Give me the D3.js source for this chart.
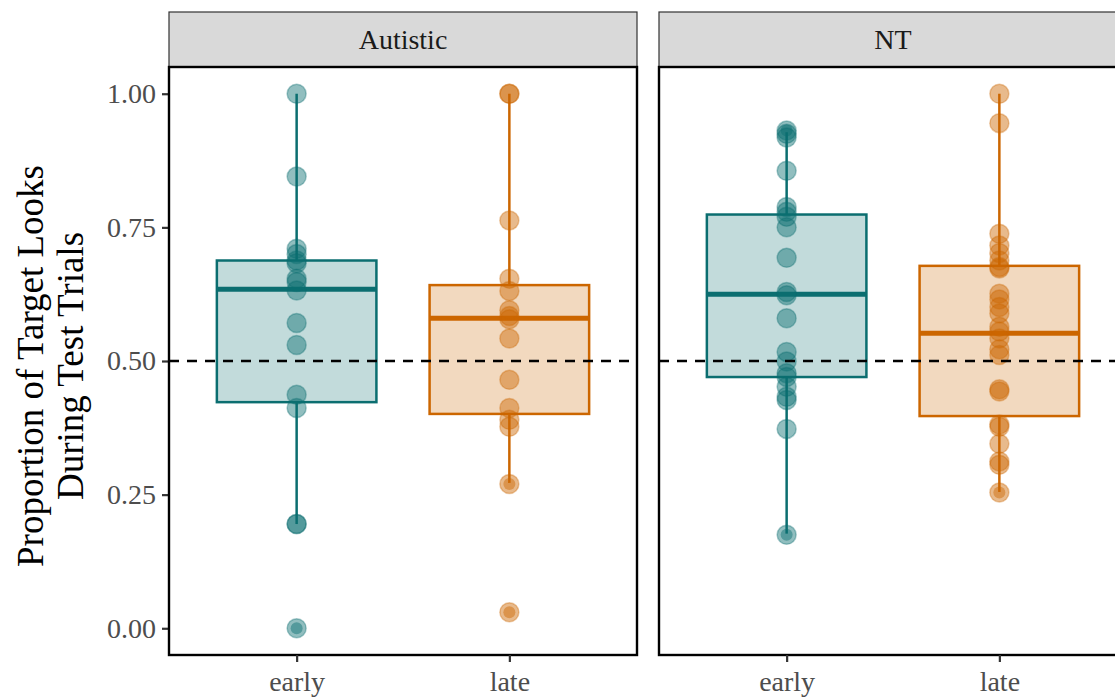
<!DOCTYPE html>
<html>
<head>
<meta charset="utf-8">
<script src="https://cdn.jsdelivr.net/npm/d3@7"></script>
<style>
  body { margin: 0; background: #fff; }
  text { font-family: "Liberation Serif", "DejaVu Serif", serif; }
</style>
</head>
<body>
<div id="chart"></div>
<script>
// Facets and categories
const groups = ["Autistic", "NT"];
const times = ["early", "late"];
const yTicks = [0, 0.25, 0.5, 0.75, 1.0];

// Individual proportions
const autisticEarly = [1.00, 0.845, 0.71, 0.70, 0.688, 0.683, 0.654, 0.648, 0.632, 0.571, 0.53, 0.437, 0.412, 0.195, 0.195, 0.00];
const autisticLate = [1.00, 1.00, 0.763, 0.654, 0.631, 0.595, 0.584, 0.578, 0.542, 0.465, 0.412, 0.39, 0.377, 0.27, 0.03];
const ntEarly = [0.931, 0.925, 0.918, 0.856, 0.788, 0.779, 0.77, 0.75, 0.693, 0.629, 0.623, 0.58, 0.517, 0.499, 0.477, 0.47, 0.452, 0.433, 0.427, 0.373, 0.175];
const ntLate = [1.00, 0.945, 0.738, 0.716, 0.702, 0.688, 0.676, 0.673, 0.626, 0.615, 0.601, 0.589, 0.564, 0.555, 0.542, 0.522, 0.511, 0.447, 0.443, 0.381, 0.377, 0.345, 0.312, 0.306, 0.254];

// Box statistics (Autistic early, Autistic late, NT early, NT late)
const whiskerLow = [0.195, 0.272, 0.177, 0.255];
const boxQ1 = [0.423, 0.401, 0.47, 0.397];
const boxMedian = [0.634, 0.58, 0.625, 0.552];
const boxQ3 = [0.688, 0.642, 0.774, 0.678];
const whiskerHigh = [1.00, 1.00, 0.928, 1.00];

const chanceLevel = 0.5;

const colors = { early: "#0b6e70", late: "#cc6600" };

const pointsByGroup = [
    [autisticEarly, autisticLate],
    [ntEarly, ntLate]
];

// Layout
const width = 1115, height = 700;
const panelTop = 67, panelBottom = 655;
const panelWidth = 468;
const panelLefts = [169, 659];
const stripTop = 12;

const svg = d3.select("#chart")
    .append("svg")
    .attr("width", width)
    .attr("height", height);

// y scale with ggplot-style 5% expansion
const yScale = d3.scaleLinear()
    .domain([-0.05, 1.05])
    .range([panelBottom, panelTop]);

// y axis ticks and labels
const yAxis = svg.append("g")
    .attr("transform", `translate(${panelLefts[0]},0)`)
    .call(d3.axisLeft(yScale).tickValues(yTicks).tickFormat(d3.format(".2f")).tickSize(7).tickPadding(6));
yAxis.select(".domain").remove();
yAxis.selectAll(".tick line").attr("stroke", "#333").attr("stroke-width", 2.2);
yAxis.selectAll(".tick text")
    .attr("fill", "#4d4d4d")
    .style("font-size", "28px")
    .style("font-family", "Liberation Serif, serif");

// y axis title (two lines)
const yTitle = svg.append("text")
    .attr("transform", `translate(0,${yScale(0.5) + 5}) rotate(-90)`)
    .attr("text-anchor", "middle")
    .style("font-size", "37px")
    .attr("fill", "#000");
yTitle.append("tspan").attr("x", 0).attr("y", 43).text("Proportion of Target Looks");
yTitle.append("tspan").attr("x", 0).attr("y", 83).text("During Test Trials");

groups.forEach(function(group, gi) {
    const x0 = panelLefts[gi];
    const xScale = d3.scalePoint()
        .domain(times)
        .range([x0, x0 + panelWidth])
        .padding(0.6);
    const boxWidth = xScale.step() * 0.75;

    const panel = svg.append("g");

    // Strip
    panel.append("rect")
        .attr("x", x0)
        .attr("y", stripTop)
        .attr("width", panelWidth)
        .attr("height", panelTop - stripTop)
        .attr("fill", "#d9d9d9")
        .attr("stroke", "#333")
        .attr("stroke-width", 1.2);
    panel.append("text")
        .attr("x", x0 + panelWidth / 2)
        .attr("y", (stripTop + panelTop) / 2)
        .attr("dy", "0.35em")
        .attr("text-anchor", "middle")
        .style("font-size", "28px")
        .attr("fill", "#1a1a1a")
        .text(group);

    // Panel background
    panel.append("rect")
        .attr("x", x0)
        .attr("y", panelTop)
        .attr("width", panelWidth)
        .attr("height", panelBottom - panelTop)
        .attr("fill", "#fff");

    times.forEach(function(time, ti) {
        const idx = gi * 2 + ti;
        const cx = xScale(time);
        const col = colors[time];

        // whiskers
        panel.append("line")
            .attr("x1", cx).attr("x2", cx)
            .attr("y1", yScale(boxQ3[idx])).attr("y2", yScale(whiskerHigh[idx]))
            .attr("stroke", col).attr("stroke-width", 2.5);
        panel.append("line")
            .attr("x1", cx).attr("x2", cx)
            .attr("y1", yScale(boxQ1[idx])).attr("y2", yScale(whiskerLow[idx]))
            .attr("stroke", col).attr("stroke-width", 2.5);

        // box
        panel.append("rect")
            .attr("x", cx - boxWidth / 2)
            .attr("y", yScale(boxQ3[idx]))
            .attr("width", boxWidth)
            .attr("height", yScale(boxQ1[idx]) - yScale(boxQ3[idx]))
            .attr("fill", col)
            .attr("fill-opacity", 0.25)
            .attr("stroke", col)
            .attr("stroke-width", 2.5);

        // median
        panel.append("line")
            .attr("x1", cx - boxWidth / 2).attr("x2", cx + boxWidth / 2)
            .attr("y1", yScale(boxMedian[idx])).attr("y2", yScale(boxMedian[idx]))
            .attr("stroke", col).attr("stroke-width", 5);

        // boxplot outliers
        const pts = pointsByGroup[gi][ti];
        const outliers = pts.filter(v => v < whiskerLow[idx] || v > whiskerHigh[idx]);
        panel.selectAll(null)
            .data(outliers)
            .enter().append("circle")
            .attr("cx", cx)
            .attr("cy", d => yScale(d))
            .attr("r", 6)
            .attr("fill", col)
            .attr("fill-opacity", 0.45)
            .attr("stroke", "none");

        // points
        panel.selectAll(null)
            .data(pts)
            .enter().append("circle")
            .attr("cx", cx)
            .attr("cy", d => yScale(d))
            .attr("r", 9.5)
            .attr("fill", col)
            .attr("fill-opacity", 0.45)
            .attr("stroke", col)
            .attr("stroke-opacity", 0.35)
            .attr("stroke-width", 1.5);
    });

    // chance line
    panel.append("line")
        .attr("x1", x0).attr("x2", x0 + panelWidth)
        .attr("y1", yScale(chanceLevel)).attr("y2", yScale(chanceLevel))
        .attr("stroke", "#000")
        .attr("stroke-width", 2.5)
        .attr("stroke-dasharray", "10,8");

    // panel border
    panel.append("rect")
        .attr("x", x0)
        .attr("y", panelTop)
        .attr("width", panelWidth)
        .attr("height", panelBottom - panelTop)
        .attr("fill", "none")
        .attr("stroke", "#000")
        .attr("stroke-width", 2.4);

    // x axis
    const xAxis = svg.append("g")
        .attr("transform", `translate(0,${panelBottom})`)
        .call(d3.axisBottom(xScale).tickSize(7).tickPadding(9));
    xAxis.select(".domain").remove();
    xAxis.selectAll(".tick line").attr("stroke", "#333").attr("stroke-width", 2.2);
    xAxis.selectAll(".tick text")
        .attr("fill", "#4d4d4d")
        .style("font-size", "28px")
        .style("font-family", "Liberation Serif, serif");
});
</script>
</body>
</html>
